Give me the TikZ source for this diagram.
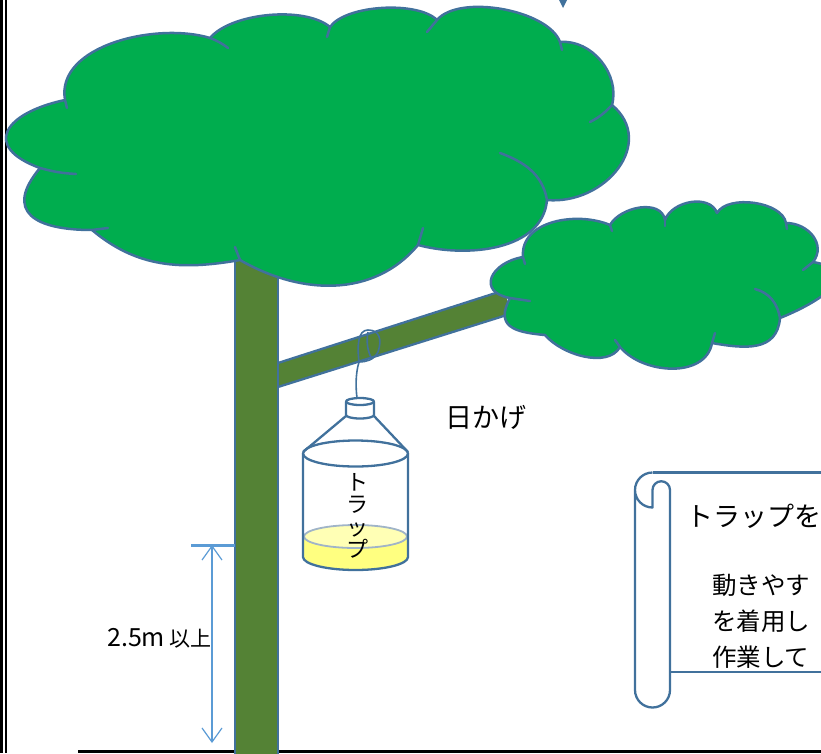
\documentclass[tikz,border=0pt]{standalone}
\usepackage{fontspec}
\newfontfamily\jp{Noto Sans CJK JP}
\usetikzlibrary{arrows.meta}
\definecolor{leaf}{HTML}{00AD4E}
\definecolor{edge}{HTML}{41719C}
\definecolor{bark}{HTML}{548235}
\definecolor{dimblue}{HTML}{5B9BD5}
\definecolor{liquid}{HTML}{FFFF80}
\definecolor{liquidtop}{HTML}{FFFFB5}
\definecolor{liquidedge}{HTML}{A0B4C8}
\begin{document}
\begin{tikzpicture}[x=1pt,y=1pt,
  leafmass/.style={fill=leaf, draw=edge, line width=2.5pt, line join=round},
  vein/.style={draw=edge, line width=2.5pt, line cap=round},
  outl/.style={draw=edge, line width=2.3pt, line join=round},
  jptext/.style={inner sep=0pt, text=black},
  dimarrow/.style={draw=dimblue, line width=1.2pt,
    {Straight Barb[length=14pt,width=20pt]}-{Straight Barb[length=14pt,width=20pt]}}
]
\useasboundingbox (0,0) rectangle (821,-753);
\clip (0,0) rectangle (821,-753);

% page frame and ground
\draw[line width=3.3pt] (1.65,0) -- (1.65,-753);
\draw[line width=2.3pt] (6.2,0) -- (6.2,-753);
\draw[line width=3pt] (78,-751.5) -- (830,-751.5);

% tip of an arrow entering from above
\fill[edge] (559,0) -- (567,0) -- (563,-8) -- cycle;

% branch
\coordinate (br1) at (278,-363);
\coordinate (br2) at (505,-290);
\coordinate (br3) at (510,-314);
\coordinate (br4) at (278,-387);
\fill[bark] (br1) -- (br2) -- (br3) -- (br4) -- cycle;
\draw[outl] (br1) -- (br2);
\draw[outl] (br4) -- (br3);

% trunk
\draw[outl, fill=bark] (235,-250) rectangle (278,-760);

% main crown
\coordinate (A) at (65,-100);
\coordinate (B) at (210,-38);
\coordinate (C) at (330,-27);
\coordinate (D) at (437,-20);
\coordinate (E) at (560,-42);
\coordinate (F) at (612,-105);
\coordinate (G) at (547,-200);
\coordinate (H) at (418,-245);
\coordinate (I) at (240,-260);
\coordinate (J) at (92,-230);
\coordinate (K) at (40,-168);
\path[leafmass] (A) to[out=100,in=163,looseness=0.9] (B)
  to[out=50,in=140,looseness=0.7] (C)
  to[out=55,in=135,looseness=0.65] (D)
  to[out=50,in=110,looseness=0.7] (E)
  to[out=5,in=75,looseness=1] (F)
  to[out=-40,in=-5,looseness=1.3] (G)
  to[out=-95,in=-15,looseness=0.95] (H)
  to[out=-130,in=-30,looseness=1] (I)
  to[out=-170,in=-40,looseness=1] (J)
  to[out=180,in=-130,looseness=1.8] (K)
  to[out=160,in=-168,looseness=2.2] (A) -- cycle;
\draw[vein] (A) -- (67,-108);
\draw[vein] (B) to[bend left=8] (228,-48);
\draw[vein] (C) -- (327,-37);
\draw[vein] (D) -- (427,-32);
\draw[vein] (E) -- (562,-50);
\draw[vein] (F) to[bend left=10] (590,-122);
\draw[vein] (G) to[out=100,in=-20] (500,-153);
\draw[vein] (H) -- (423,-228);
\draw[vein] (I) -- (235,-247);
\draw[vein] (J) -- (108,-228);
\draw[vein] (K) to[bend right=6] (76,-174);

% side crown
\coordinate (a) at (523,-257);
\coordinate (j) at (610,-225);
\coordinate (k) at (665,-220);
\coordinate (i) at (717,-213);
\coordinate (h) at (786,-223);
\coordinate (g) at (813,-262);
\coordinate (f) at (780,-318);
\coordinate (e) at (712,-343);
\coordinate (d) at (620,-347);
\coordinate (c) at (545,-335);
\coordinate (b) at (510,-298);
\path[leafmass] (a) to[out=95,in=157,looseness=1] (j)
  to[out=60,in=100,looseness=1] (k)
  to[out=70,in=110,looseness=1] (i)
  to[out=60,in=100,looseness=0.8] (h)
  to[out=0,in=52,looseness=1.2] (g)
  to[out=-10,in=22,looseness=2] (f)
  to[out=-95,in=-10,looseness=1.2] (e)
  to[out=-100,in=-50,looseness=1] (d)
  to[out=-120,in=-50,looseness=0.85] (c)
  to[out=175,in=-118,looseness=1.6] (b)
  to[out=170,in=-170,looseness=2] (a) -- cycle;
\draw[vein] (a) -- (525,-264);
\draw[vein] (b) -- (530,-301);
\draw[vein] (d) -- (615,-340);
\draw[vein] (e) -- (715,-333);
\draw[vein] (f) to[out=100,in=-15] (755,-289);
\draw[vein] (g) -- (803,-270);
\draw[vein] (h) -- (787,-229);
\draw[vein] (j) -- (612,-231);
\draw[vein] (k) -- (665,-226);

% strap round the branch and the hanging string
\draw[outl, line width=1.6pt] (359,-362) .. controls (357,-345) and (358,-330) .. (368,-330)
  .. controls (380,-330) and (382,-340) .. (378,-352)
  .. controls (374,-360) and (366,-362) .. (359,-362);
\draw[outl, line width=1.6pt] (368,-332) .. controls (366,-342) and (368,-352) .. (371,-357);
\draw[outl, line width=1.6pt] (359,-362) .. controls (355,-375) and (356,-390) .. (357,-398);

% bottle: liquid
\fill[liquid] (303,-536.5) -- (303,-557) arc[start angle=180,end angle=360,x radius=52.5,y radius=13] -- (408,-536.5) -- cycle;
\draw[draw=liquidedge, fill=liquidtop, line width=1.8pt] (355.5,-536.5) ellipse [x radius=51.5, y radius=11.5];
% bottle: body
\draw[outl] (355.5,-453.5) ellipse [x radius=52.5, y radius=13];
\draw[outl] (303,-453.5) -- (303,-557) arc[start angle=180,end angle=360,x radius=52.5,y radius=13] -- (408,-453.5);
% bottle: shoulder and cap
\draw[outl] (346,-416) -- (303,-452);
\draw[outl] (374,-416) -- (408,-452);
\draw[outl, fill=white] (346,-401.5) -- (346,-415) arc[start angle=180,end angle=360,x radius=14,y radius=3.5] -- (374,-401.5);
\draw[outl] (360,-401.5) ellipse [x radius=14, y radius=3.5];
\node[jptext, font=\jp\fontsize{22}{22.5}\selectfont, align=center] (traplabel) at (357,-516) {ト\\ラ\\ッ\\プ};

% shade label
\node[jptext, font=\jp\fontsize{27}{30}\selectfont] (shade) at (486,-417) {日かげ};

% height dimension
\coordinate (dimtop) at (212,-545);
\coordinate (dimbot) at (212,-743);
\draw[draw=dimblue, line width=3pt] (191,-545) -- (235,-545);
\draw[dimarrow] (dimtop) -- (dimbot);
\node[jptext, font=\jp\fontsize{21}{24}\selectfont, anchor=east] (height) at (212,-638) {{\fontsize{25}{28}\selectfont 2.5m} 以上};

% scroll panel
\draw[outl] (652.5,-472.5) -- (830,-472.5);
\draw[outl] (670,-672) -- (830,-672);
\draw[outl] (652.5,-472.5) arc[start angle=90,end angle=180,radius=17.5]
  -- (635,-690) arc[start angle=180,end angle=360,radius=17.5]
  -- (670,-490) arc[start angle=0,end angle=180,radius=8.75]
  -- (652.5,-507.5) arc[start angle=270,end angle=180,radius=17.5];
\node[jptext, font=\jp\fontsize{27}{30}\selectfont, anchor=west] (stitle) at (686,-516) {トラップを};
\node[jptext, font=\jp\fontsize{24.5}{36}\selectfont, anchor=west, align=left] (sbody) at (712,-621) {動きやす\\を着用し\\作業して};
\end{tikzpicture}
\end{document}
